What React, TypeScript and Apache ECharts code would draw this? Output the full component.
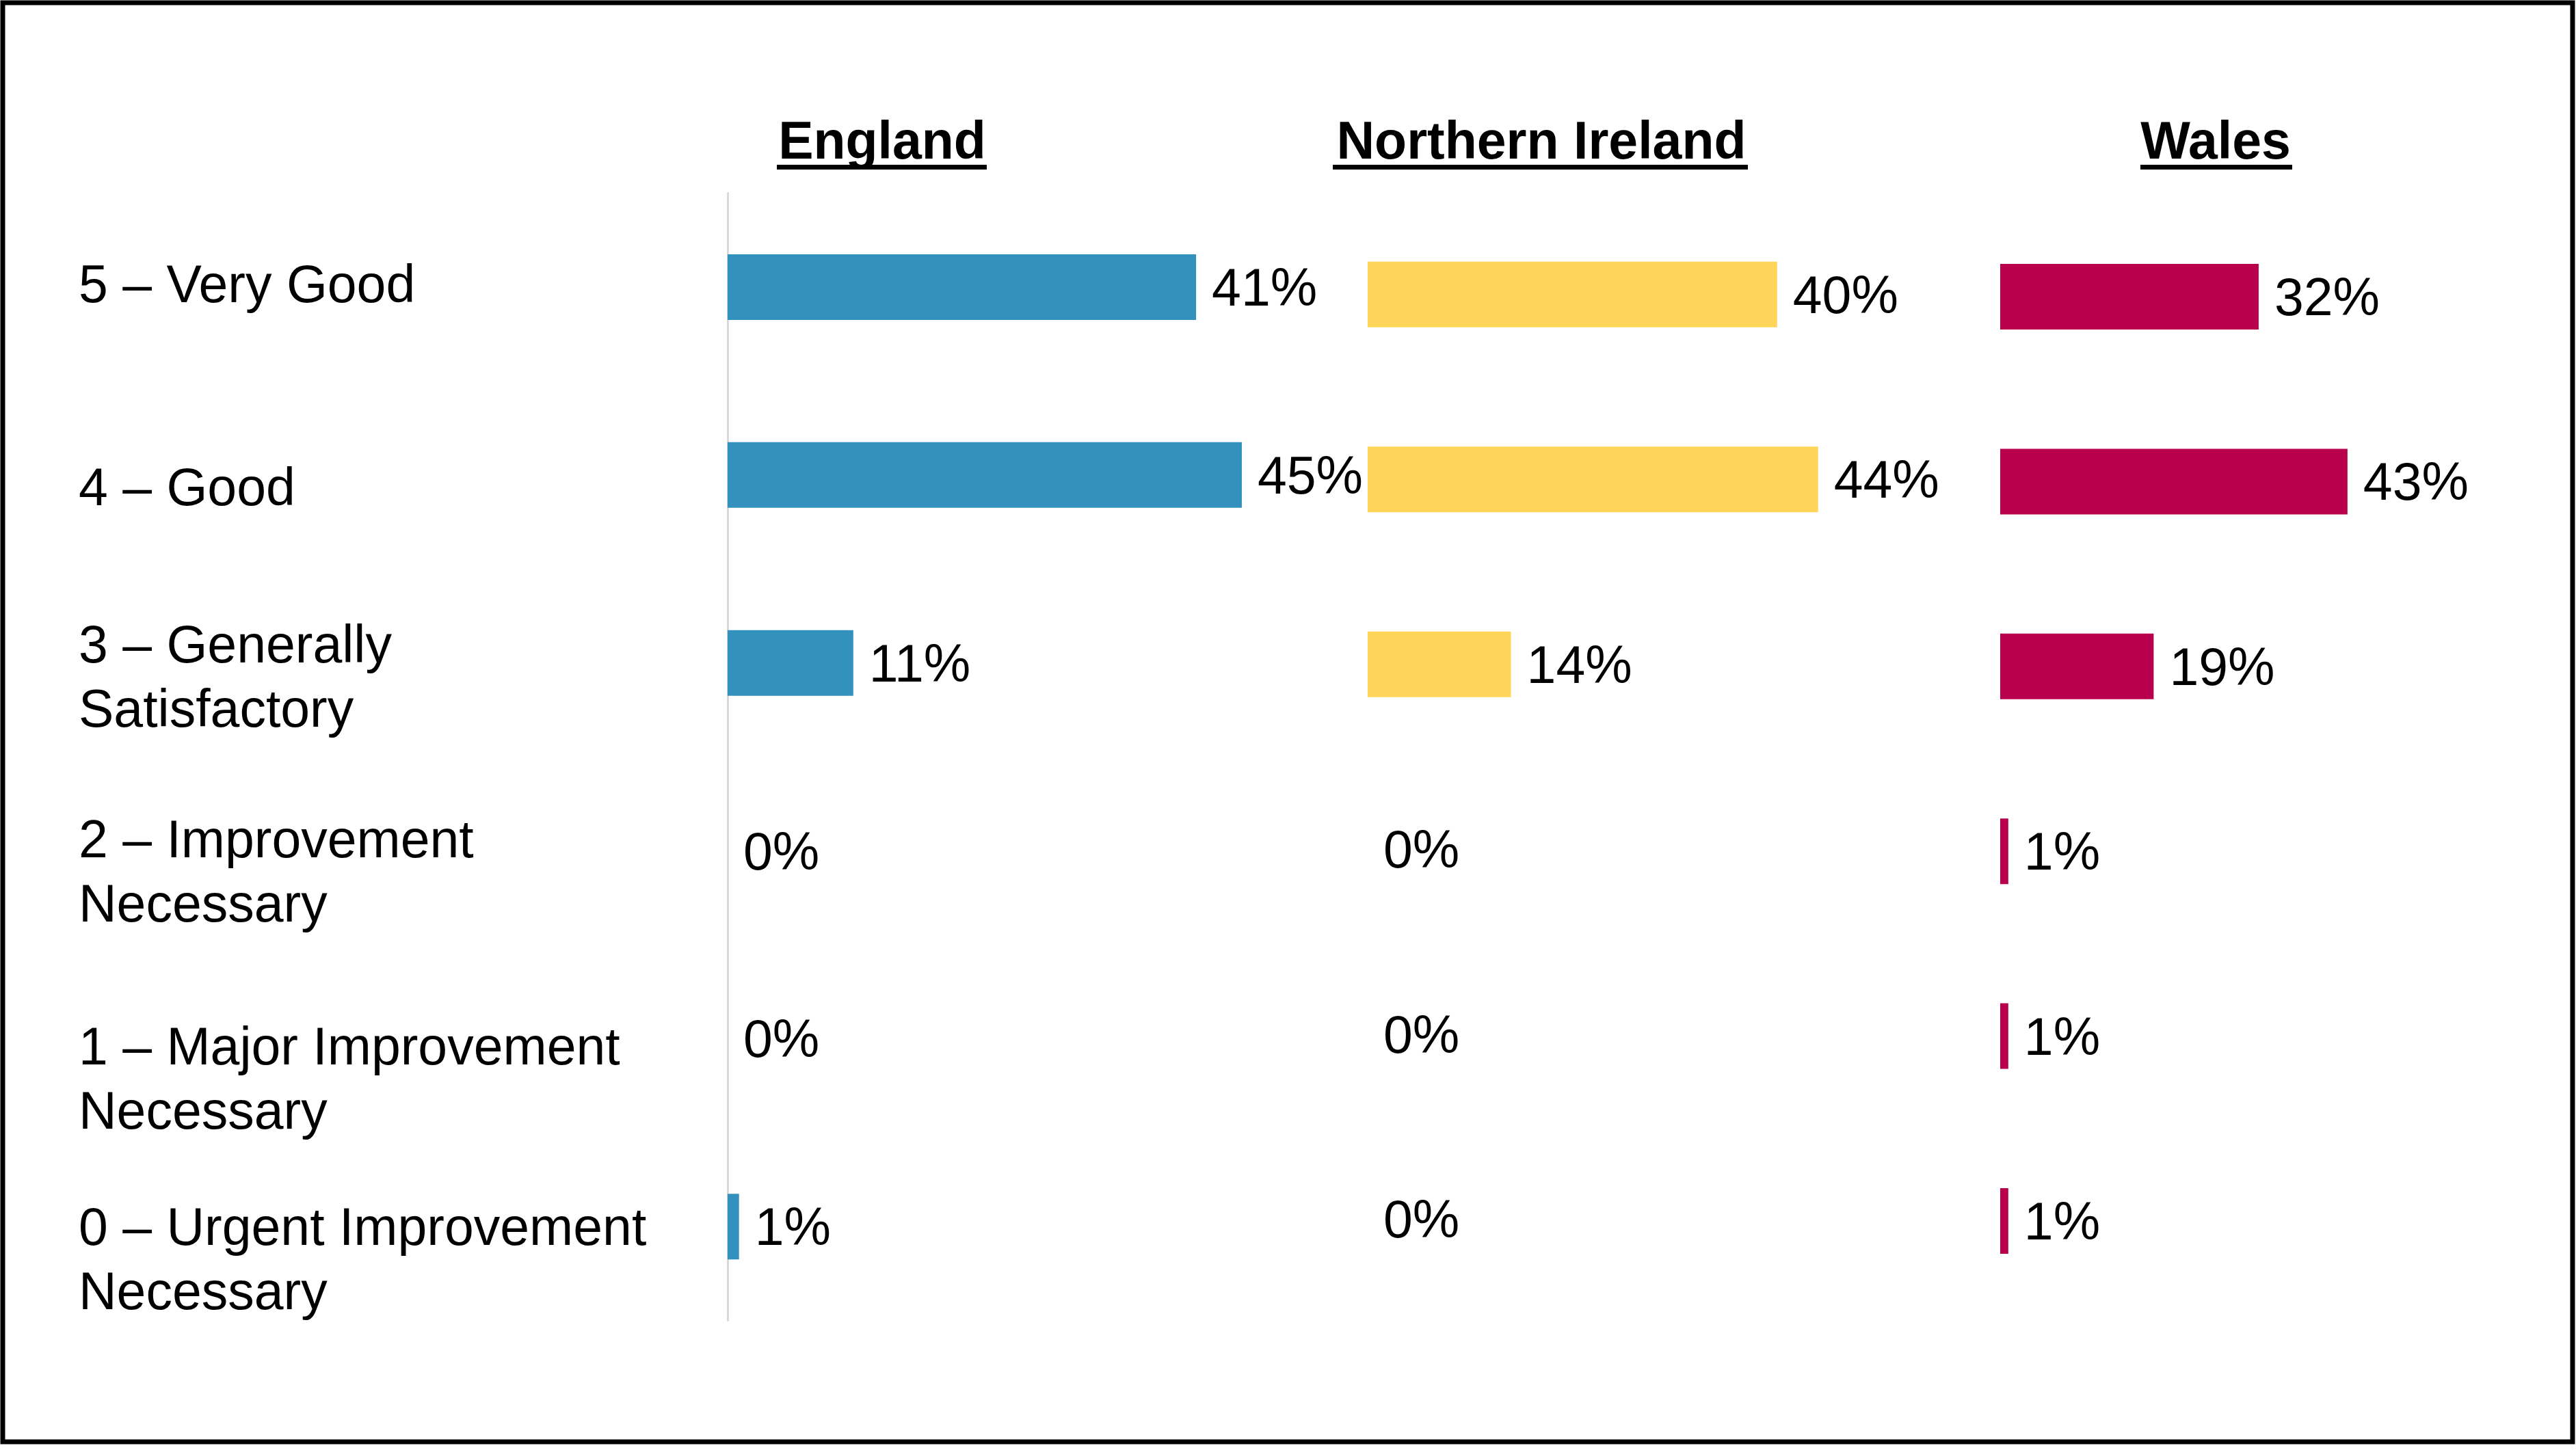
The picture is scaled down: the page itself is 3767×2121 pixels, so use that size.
import React, { useEffect, useRef } from "react";
import * as echarts from "echarts";

// ---- Data ----
const categories = [
  "5 – Very Good",
  "4 – Good",
  "3 – Generally\nSatisfactory",
  "2 – Improvement\nNecessary",
  "1 – Major Improvement\nNecessary",
  "0 – Urgent Improvement\nNecessary",
];
const regions = ["England", "Northern Ireland", "Wales"];
const englandValues = [41, 45, 11, 0, 0, 1];
const northernIrelandValues = [40, 44, 14, 0, 0, 0];
const walesValues = [32, 43, 19, 1, 1, 1];
const regionColors = ["#3391BD", "#FFD559", "#B9004C"];

// ---- Layout (style only) ----
const W = 3767;
const H = 2121;
const FONT = "'Liberation Sans', Arial, sans-serif";
const grids = [
  { left: 1064, top: 282.6, width: 835.5, height: 1649 },
  { left: 2000, top: 295.4, width: 748.5, height: 1623 },
  { left: 2925, top: 298.8, width: 590.5, height: 1622.4 },
  { left: 115, top: 276.6, width: 10, height: 1716 },
];
const titleCenters = [1290, 2254, 3240];
const underlines = [
  [1136, 307],
  [1949, 607],
  [3130, 222],
];
// small vertical nudges (px, + = down) for the free-standing row labels
const labelShifts = [-5, 6, -3, -4, 13, -9];

export default function App() {
  const ref = useRef<HTMLDivElement>(null);

  useEffect(() => {
    document.body.style.margin = "0";
    document.body.style.overflow = "hidden";
    if (!ref.current) return;
    const chart = echarts.init(ref.current, null, { renderer: "svg" });

    const seriesData = [englandValues, northernIrelandValues, walesValues];

    const rich: any = {
      t: { fontSize: 77, lineHeight: 94, fontFamily: FONT, color: "#000000" },
    };
    labelShifts.forEach((s) => {
      const h = Math.abs(s) * 2;
      rich["s" + h] = { fontSize: 1, lineHeight: h, color: "transparent" };
    });

    const labelFormatter = (value: string, index: number) => {
      const s = labelShifts[index] || 0;
      const body = value
        .split("\n")
        .map((l) => "{t|" + l + "}")
        .join("\n");
      if (s === 0) return body;
      const spacer = "{s" + Math.abs(s) * 2 + "| }";
      return s > 0 ? spacer + "\n" + body : body + "\n" + spacer;
    };

    const option: any = {
      animation: false,
      backgroundColor: "#ffffff",
      grid: grids.map((g) => ({ ...g, containLabel: false })),
      xAxis: grids.map((_, i) => ({
        type: "value",
        gridIndex: i,
        min: 0,
        max: 50,
        show: false,
      })),
      yAxis: [
        ...[0, 1, 2].map((i) => ({
          type: "category",
          gridIndex: i,
          inverse: true,
          data: categories,
          axisLine: {
            show: i === 0,
            lineStyle: { color: "#D9D9D9", width: 3 },
          },
          axisTick: { show: false },
          axisLabel: { show: false },
          splitLine: { show: false },
        })),
        {
          type: "category",
          gridIndex: 3,
          inverse: true,
          data: categories,
          axisLine: { show: false },
          axisTick: { show: false },
          splitLine: { show: false },
          axisLabel: {
            show: true,
            margin: 0,
            interval: 0,
            align: "left",
            verticalAlign: "middle",
            fontSize: 77,
            lineHeight: 94,
            color: "#000000",
            fontFamily: FONT,
            formatter: labelFormatter,
            rich,
          },
        },
      ],
      series: seriesData.map((vals, i) => ({
        type: "bar",
        name: regions[i],
        xAxisIndex: i,
        yAxisIndex: i,
        data: vals,
        barWidth: 96,
        itemStyle: { color: regionColors[i] },
        label: {
          show: true,
          position: "right",
          distance: 23,
          formatter: "{c}%",
          fontSize: 77,
          color: "#000000",
          fontFamily: FONT,
        },
      })),
      graphic: [
        {
          type: "rect",
          shape: { x: 4, y: 4, width: 3758, height: 2105 },
          style: { fill: "none", stroke: "#000000", lineWidth: 7 },
          z: 100,
        },
        ...regions.map((r, i) => ({
          type: "text",
          x: titleCenters[i],
          y: 205,
          style: {
            text: r,
            fontSize: 77,
            fontWeight: "bold",
            fontFamily: FONT,
            fill: "#000000",
            align: "center",
            verticalAlign: "middle",
          },
        })),
        ...underlines.map(([x, w]) => ({
          type: "rect",
          shape: { x, y: 241, width: w, height: 7 },
          style: { fill: "#000000" },
        })),
      ],
    };

    chart.setOption(option);
    return () => chart.dispose();
  }, []);

  return <div ref={ref} style={{ width: W, height: H }} />;
}
